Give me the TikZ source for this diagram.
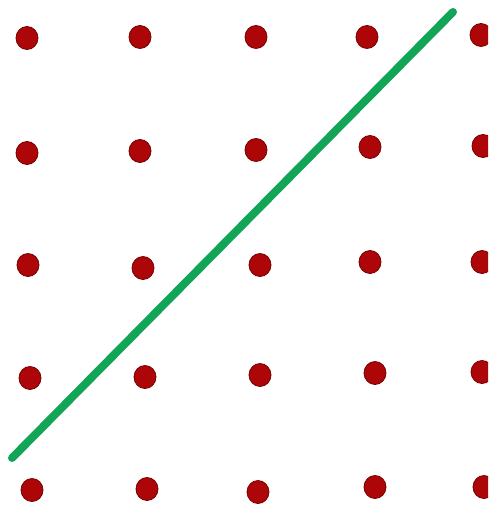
\documentclass[tikz,border=0pt]{standalone}
\definecolor{dotred}{RGB}{172,6,8}
\definecolor{dotedge}{RGB}{120,0,0}
\definecolor{linegreen}{RGB}{18,165,88}
\tikzset{
  dot/.style={fill=dotred,draw=dotedge,line width=0.8pt},
  penline/.style={draw=linegreen,line width=8pt,line cap=round}
}
\begin{document}
\begin{tikzpicture}[x=1pt,y=-1pt]
\useasboundingbox[fill=white] (0,0) rectangle (488,505);
\clip (0,0) rectangle (488,505);
% row 1
\foreach \x/\y in {27/38,140/37,256/37,367/37,481/35,
                   27/153,140/151,256/150,370/147,483/146,
                   28/265,143/268,260/265,370/262,482/262,
                   30/378,145/377,260/375,375/373,482/372,
                   32/490,147/489,258/492,375/487,484/487}
  \fill[dot] (\x,\y) ellipse (11 and 11.5);
\coordinate (lineA) at (12,458);
\coordinate (lineB) at (453,12);
\draw[penline] (lineA) -- (lineB);
\end{tikzpicture}
\end{document}
